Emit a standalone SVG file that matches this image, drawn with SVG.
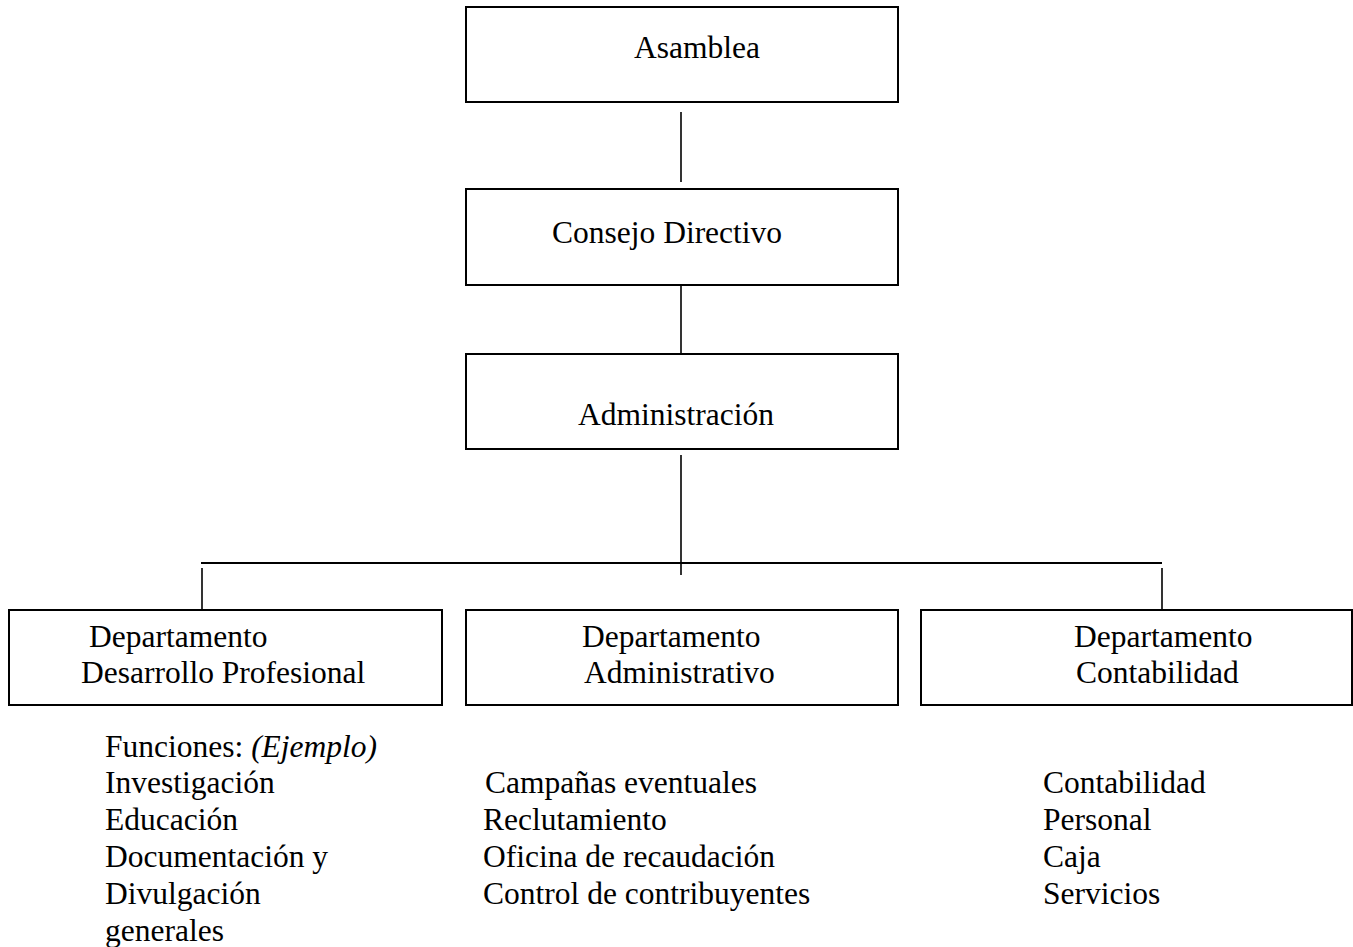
<svg xmlns="http://www.w3.org/2000/svg" width="1353" height="947" viewBox="0 0 1353 947">
<style>
.box{fill:#fff;stroke:#000;stroke-width:2}
.ln{stroke:#000;stroke-width:1.6;fill:none}
text{font-family:"Liberation Serif","Times New Roman",serif;font-size:31.5px;fill:#000}
</style>
<rect width="1353" height="947" fill="#fff"/>
<g id="connectors">
<line class="ln" x1="681" y1="112" x2="681" y2="182"/>
<line class="ln" x1="681" y1="281" x2="681" y2="354"/>
<line class="ln" x1="681" y1="455" x2="681" y2="575"/>
<line class="ln" x1="201" y1="563" x2="1162" y2="563" style="stroke-width:2"/>
<line class="ln" x1="202" y1="568" x2="202" y2="617"/>
<line class="ln" x1="1162" y1="568" x2="1162" y2="617"/>
</g>
<g id="asamblea">
<rect class="box" x="466" y="7" width="432" height="95"/>
<text x="634" y="58">Asamblea</text>
</g>
<g id="consejo">
<rect class="box" x="466" y="189" width="432" height="96"/>
<text x="552" y="243">Consejo Directivo</text>
</g>
<g id="administracion">
<rect class="box" x="466" y="354" width="432" height="95"/>
<text x="578" y="425">Administración</text>
</g>
<g id="dept-desarrollo">
<rect class="box" x="9" y="610" width="433" height="95"/>
<text x="89" y="647">Departamento</text>
<text x="81" y="683">Desarrollo Profesional</text>
</g>
<g id="dept-administrativo">
<rect class="box" x="466" y="610" width="432" height="95"/>
<text x="582" y="647">Departamento</text>
<text x="584" y="683">Administrativo</text>
</g>
<g id="dept-contabilidad">
<rect class="box" x="921" y="610" width="431" height="95"/>
<text x="1074" y="647">Departamento</text>
<text x="1076" y="683">Contabilidad</text>
</g>
<g id="funciones-desarrollo">
<text x="105" y="757">Funciones: <tspan font-style="italic">(Ejemplo)</tspan></text>
<text x="105" y="793">Investigación</text>
<text x="105" y="830">Educación</text>
<text x="105" y="867">Documentación y</text>
<text x="105" y="904">Divulgación</text>
<text x="105" y="941">generales</text>
</g>
<g id="funciones-administrativo">
<text x="485" y="793">Campañas eventuales</text>
<text x="483" y="830">Reclutamiento</text>
<text x="483" y="867">Oficina de recaudación</text>
<text x="483" y="904">Control de contribuyentes</text>
</g>
<g id="funciones-contabilidad">
<text x="1043" y="793">Contabilidad</text>
<text x="1043" y="830">Personal</text>
<text x="1043" y="867">Caja</text>
<text x="1043" y="904">Servicios</text>
</g>
</svg>
